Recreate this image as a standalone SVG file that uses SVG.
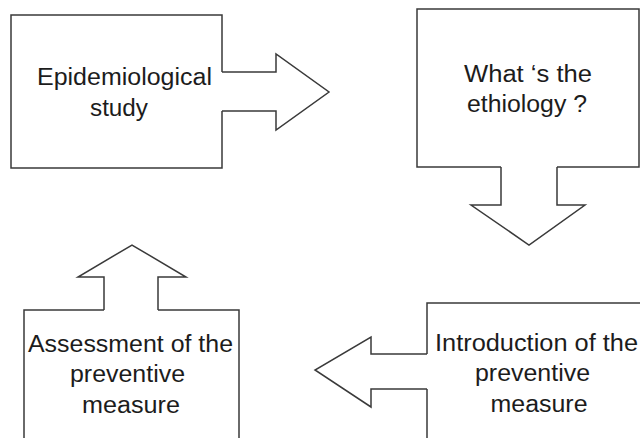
<svg xmlns="http://www.w3.org/2000/svg" width="640" height="438" viewBox="0 0 640 438">
  <style>
    .edge { fill: none; stroke: #3a3a3a; stroke-width: 1.5; stroke-linejoin: miter; }
    .lbl { font-family: "Liberation Sans", Arial, sans-serif; font-size: 23px; fill: #1c1c1c; text-anchor: middle; }
  </style>
  <rect width="640" height="438" fill="#ffffff"/>
  <g id="connectors">
    <path class="edge" d="M222,72 H276 V54 L329,92 L276,130 V111 H222"/>
    <path class="edge" d="M501,167 V205 H471 L529,245 L585,205 H557 V167"/>
    <path class="edge" d="M427,354 H371 V337 L315,370 L371,407 V389 H427"/>
    <path class="edge" d="M104,310 V277 H78 L132,245 L186,277 H158 V310"/>
  </g>
  <g id="node-epidemiological-study">
    <path class="edge" d="M222,72 V15 H11 V168 H222 V111"/>
    <text class="lbl" x="124.5" y="85" textLength="175" lengthAdjust="spacingAndGlyphs">Epidemiological</text>
    <text class="lbl" x="119" y="116" textLength="58" lengthAdjust="spacingAndGlyphs">study</text>
  </g>
  <g id="node-ethiology">
    <path class="edge" d="M501,167 H417 V9 H639 V167 H557"/>
    <text class="lbl" x="528" y="82" textLength="128" lengthAdjust="spacingAndGlyphs">What ‘s the</text>
    <text class="lbl" x="527" y="112" textLength="120" lengthAdjust="spacingAndGlyphs">ethiology ?</text>
  </g>
  <g id="node-introduction">
    <path class="edge" d="M427,354 V303 H641 M427,389 V439"/>
    <text class="lbl" x="536.5" y="351" textLength="203" lengthAdjust="spacingAndGlyphs">Introduction of the</text>
    <text class="lbl" x="532.5" y="381" textLength="115" lengthAdjust="spacingAndGlyphs">preventive</text>
    <text class="lbl" x="539" y="412" textLength="97" lengthAdjust="spacingAndGlyphs">measure</text>
  </g>
  <g id="node-assessment">
    <path class="edge" d="M104,310 H24 V439 M158,310 H239 V439"/>
    <text class="lbl" x="130.5" y="352" textLength="205" lengthAdjust="spacingAndGlyphs">Assessment of the</text>
    <text class="lbl" x="127.5" y="382" textLength="115" lengthAdjust="spacingAndGlyphs">preventive</text>
    <text class="lbl" x="131" y="413" textLength="98" lengthAdjust="spacingAndGlyphs">measure</text>
  </g>
</svg>
